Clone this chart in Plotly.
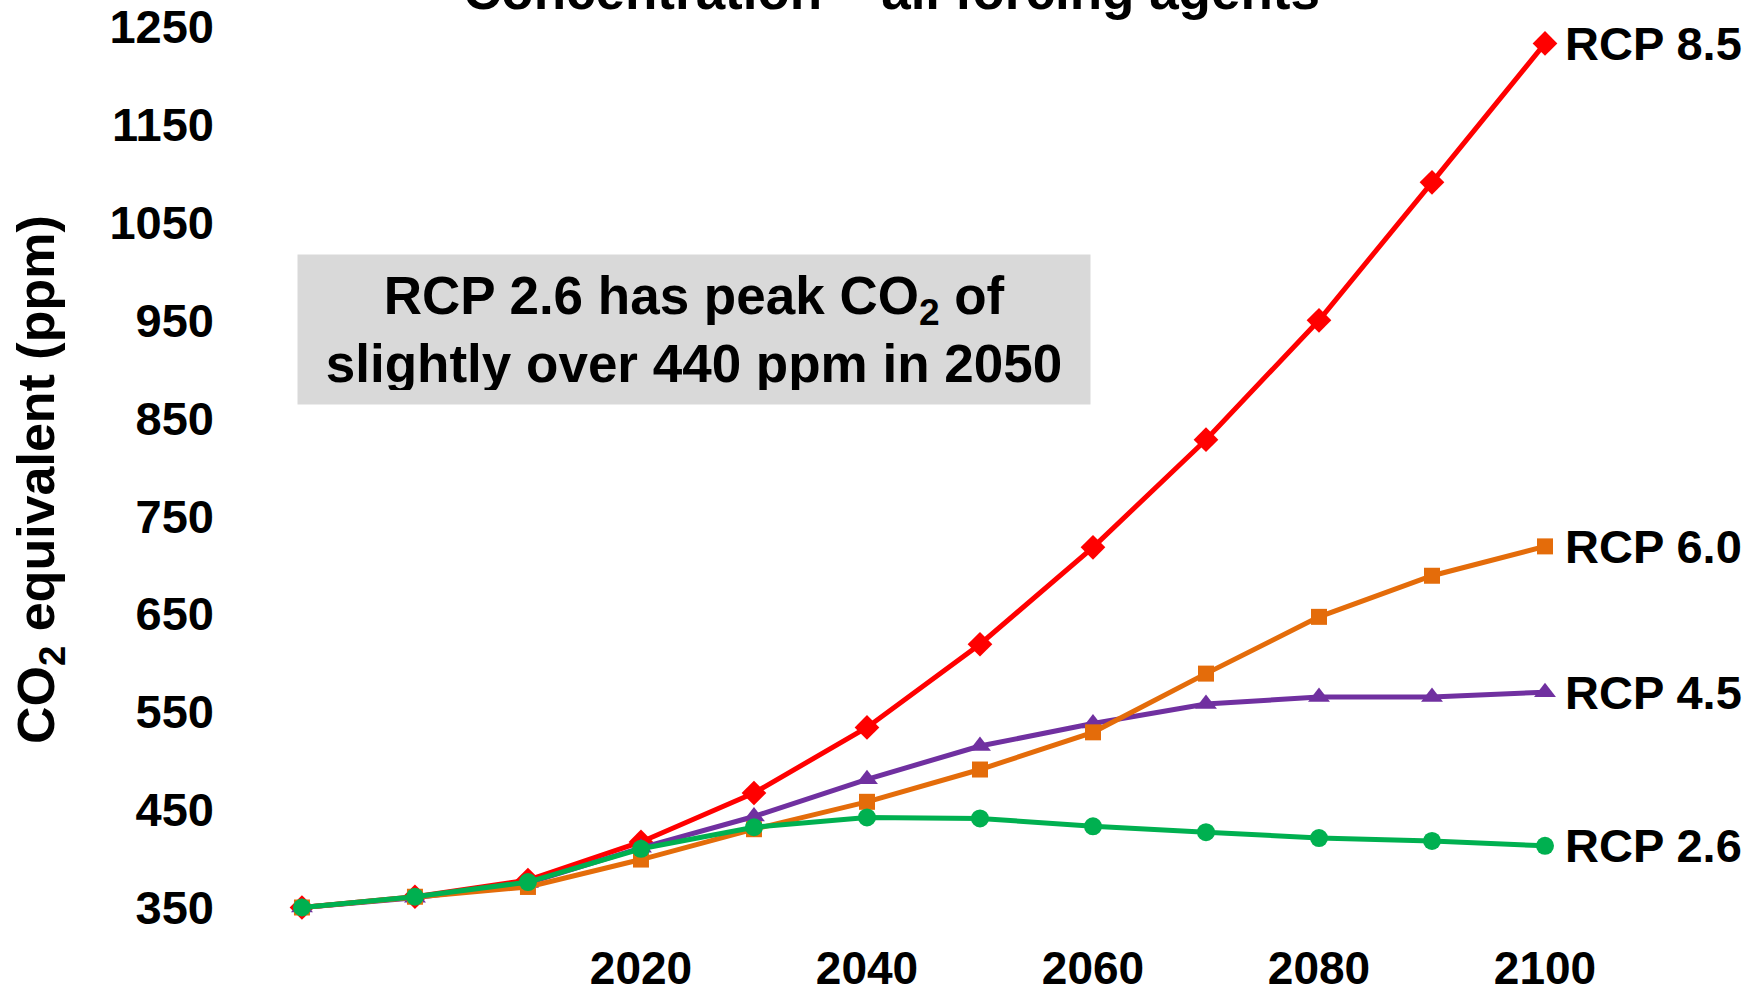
import plotly.graph_objects as go

years = [1990, 2000, 2010, 2020, 2030, 2040, 2050, 2060, 2070, 2080, 2090, 2100]
rcp85 = [350, 361, 378, 417, 467, 534, 619, 718, 828, 950, 1091, 1233]
rcp60 = [350, 361, 371, 399, 430, 458, 491, 529, 589, 647, 689, 719]
rcp45 = [350, 360, 375, 411, 443, 481, 515, 538, 558, 565, 565, 570]
rcp26 = [350, 361, 376, 410, 432, 442, 441, 433, 427, 421, 418, 413]

series_names = ["RCP 8.5", "RCP 4.5", "RCP 6.0", "RCP 2.6"]
series_values = [rcp85, rcp45, rcp60, rcp26]
series_colors = ["#ff0000", "#7030a0", "#e46c0a", "#00b050"]
series_symbols = ["diamond", "triangle-up", "square", "circle"]
series_sizes = [19, 19, 16, 18]

xtick_vals = [2020, 2040, 2060, 2080, 2100]
xtick_text = ["2020", "2040", "2060", "2080", "2100"]
ytick_vals = [350, 450, 550, 650, 750, 850, 950, 1050, 1150, 1250]
ytick_text = [str(v) for v in ytick_vals]

FONT = "Liberation Sans, Arial, sans-serif"

# layout geometry (pixels)
L, R, T, B = 225, 197, 15, 58
W, H = 1762, 993
PW, PH = W - L - R, H - T - B


def px_x(p):
    return (p - L) / PW


def px_y(p):
    return (H - B - p) / PH


fig = go.Figure()
for name, vals, col, sym, sz in zip(series_names, series_values, series_colors,
                                    series_symbols, series_sizes):
    fig.add_trace(go.Scatter(
        x=years, y=vals, mode="lines+markers", name=name,
        line=dict(color=col, width=5),
        marker=dict(symbol=sym, size=sz, color=col, line=dict(width=0)),
        cliponaxis=False,
    ))
    fig.add_annotation(x=years[-1], y=vals[-1], xref="x", yref="y",
                       text=f"<b>{name}</b>", showarrow=False,
                       xanchor="left", yanchor="middle", xshift=18,
                       font=dict(family=FONT, size=47, color="black"))

fig.add_annotation(
    xref="paper", yref="paper", x=px_x(694), y=px_y(329),
    xanchor="center", yanchor="middle",
    text="<b>RCP 2.6 has peak CO<sub>2</sub> of<br>slightly over 440 ppm in 2050</b>",
    showarrow=False, bgcolor="#d9d9d9", borderpad=14, width=764, height=121,
    align="center", font=dict(family=FONT, size=53, color="black"))

fig.add_annotation(
    xref="paper", yref="paper", x=px_x(891), y=px_y(-9),
    xanchor="center", yanchor="middle",
    text="<b>Concentration – all forcing agents</b>", showarrow=False,
    font=dict(family=FONT, size=53, color="black"))

fig.add_annotation(
    xref="paper", yref="paper", x=px_x(40), y=px_y(480),
    xanchor="center", yanchor="middle", textangle=-90,
    text="<b>CO<sub>2</sub> equivalent (ppm)</b>", showarrow=False,
    font=dict(family=FONT, size=52, color="black"))

fig.update_layout(
    width=W, height=H,
    margin=dict(l=L, r=R, t=T, b=B, autoexpand=False),
    paper_bgcolor="white", plot_bgcolor="white",
    showlegend=False,
    xaxis=dict(range=[1983.19, 2101.77], tickvals=xtick_vals, ticktext=xtick_text,
               showgrid=False, zeroline=False, showline=False, ticks="",
               automargin=False, ticklabelstandoff=2,
               tickfont=dict(family=FONT, size=46, color="black", weight="bold")),
    yaxis=dict(range=[321.9, 1262.0], tickvals=ytick_vals, ticktext=ytick_text,
               showgrid=False, zeroline=False, showline=False, ticks="",
               automargin=False, ticklabelstandoff=10,
               tickfont=dict(family=FONT, size=47, color="black", weight="bold")),
)

fig.write_html("out.html",
               config={"displayModeBar": False},
               post_script="document.body.style.margin='0';"
                           "document.body.style.overflow='hidden';")
